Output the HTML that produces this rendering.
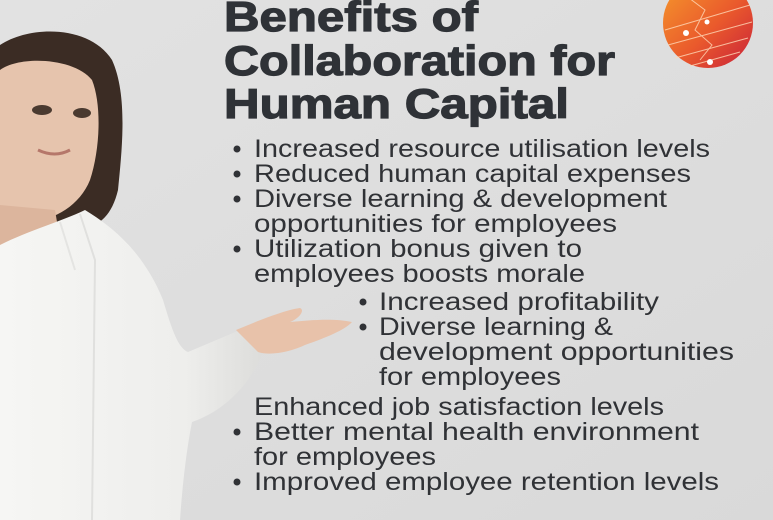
<!DOCTYPE html>
<html><head><meta charset="utf-8"><style>
html,body{margin:0;padding:0;background:#dfdfdf;}
svg{display:block}
</style></head><body>
<svg width="773" height="520" viewBox="0 0 773 520" xmlns="http://www.w3.org/2000/svg">
<defs>
<linearGradient id="bg" x1="0" y1="0" x2="1" y2="1"><stop offset="0" stop-color="#e2e2e2"/><stop offset="1" stop-color="#d9d9d9"/></linearGradient>
<linearGradient id="logo" x1="0" y1="0" x2="1" y2="1"><stop offset="0" stop-color="#f59a2b"/><stop offset="0.55" stop-color="#ea5a2c"/><stop offset="1" stop-color="#c8203a"/></linearGradient>
<linearGradient id="shirt" x1="0" y1="0" x2="1" y2="0"><stop offset="0" stop-color="#f6f6f4"/><stop offset="0.7" stop-color="#eeeeec"/><stop offset="1" stop-color="#dcdcda"/></linearGradient>
</defs>
<rect width="773" height="520" fill="url(#bg)"/>
<g>
<path d="M0,45 C30,25 90,25 112,60 C128,95 122,150 118,190 C112,215 100,225 85,228 L40,230 L0,225 Z" fill="#3b2c24"/>
<path d="M0,70 C20,55 75,58 92,80 C102,105 100,150 90,180 C80,205 55,220 30,222 C15,222 5,215 0,212 Z" fill="#e6c4ad"/>
<path d="M0,205 L55,210 L60,240 L0,250 Z" fill="#dcb59d"/>
<path d="M0,245 C30,230 60,222 85,210 C115,228 145,255 163,300 C172,330 178,348 188,352 L240,330 L264,348 C252,385 222,412 192,422 C186,452 182,490 180,520 L0,520 Z" fill="url(#shirt)"/>
<path d="M236,330 C260,320 285,310 300,308 C305,310 300,318 290,322 C310,320 335,318 352,322 C345,330 325,338 305,345 C290,352 270,356 258,352 Z" fill="#e8c2aa"/>
<path d="M80,214 L95,260 L92,520" stroke="#e0e0de" stroke-width="2" fill="none"/>
<path d="M60,222 L75,270" stroke="#e4e4e2" stroke-width="2" fill="none"/>
<ellipse cx="42" cy="110" rx="10" ry="5" fill="#4a3a30"/>
<ellipse cx="82" cy="113" rx="9" ry="5" fill="#4a3a30"/>
<path d="M38,150 Q55,158 70,150" stroke="#b5776a" stroke-width="3" fill="none"/>
</g>
<g>
<circle cx="708" cy="23" r="45" fill="url(#logo)"/>
<g stroke="#ffd9b8" stroke-width="1" opacity="0.8" fill="none">
<path d="M665,30 L750,5 M668,45 L752,22 M675,58 L748,38 M690,66 L740,52"/>
<path d="M685,-5 L705,10 L695,30 L712,45 L700,60"/>
</g>
<circle cx="686" cy="33" r="3" fill="#fff"/><circle cx="710" cy="62" r="3" fill="#fff"/><circle cx="707" cy="22" r="2.5" fill="#fff"/>
</g>
<g fill="#2f3237" stroke="#2f3237" stroke-width="1.2" font-family="Liberation Sans, sans-serif" font-weight="bold" font-size="42">
<text x="224" y="31" textLength="254" lengthAdjust="spacingAndGlyphs">Benefits of</text>
<text x="224" y="75" textLength="391" lengthAdjust="spacingAndGlyphs">Collaboration for</text>
<text x="224" y="118" textLength="345" lengthAdjust="spacingAndGlyphs">Human Capital</text>
</g>
<g fill="#303236" font-family="Liberation Sans, sans-serif" font-size="25">
<text x="254" y="157" textLength="456" lengthAdjust="spacingAndGlyphs">Increased resource utilisation levels</text>
<text x="254" y="182" textLength="437" lengthAdjust="spacingAndGlyphs">Reduced human capital expenses</text>
<text x="254" y="207" textLength="413" lengthAdjust="spacingAndGlyphs">Diverse learning &amp; development</text>
<text x="254" y="232" textLength="363" lengthAdjust="spacingAndGlyphs">opportunities for employees</text>
<text x="254" y="257" textLength="328" lengthAdjust="spacingAndGlyphs">Utilization bonus given to</text>
<text x="254" y="282" textLength="331" lengthAdjust="spacingAndGlyphs">employees boosts morale</text>
<text x="379" y="310" textLength="280" lengthAdjust="spacingAndGlyphs">Increased profitability</text>
<text x="379" y="335" textLength="234" lengthAdjust="spacingAndGlyphs">Diverse learning &amp;</text>
<text x="379" y="360" textLength="355" lengthAdjust="spacingAndGlyphs">development opportunities</text>
<text x="379" y="385" textLength="182" lengthAdjust="spacingAndGlyphs">for employees</text>
<text x="254" y="415" textLength="410" lengthAdjust="spacingAndGlyphs">Enhanced job satisfaction levels</text>
<text x="254" y="440" textLength="445" lengthAdjust="spacingAndGlyphs">Better mental health environment</text>
<text x="254" y="465" textLength="182" lengthAdjust="spacingAndGlyphs">for employees</text>
<text x="254" y="490" textLength="465" lengthAdjust="spacingAndGlyphs">Improved employee retention levels</text>
<g>
<circle cx="237" cy="149" r="3.5"/><circle cx="237" cy="174" r="3.5"/><circle cx="237" cy="199" r="3.5"/>
<circle cx="237" cy="249" r="3.5"/><circle cx="363" cy="302" r="3.5"/><circle cx="363" cy="327" r="3.5"/>
<circle cx="237" cy="432" r="3.5"/><circle cx="237" cy="482" r="3.5"/>
</g>
</g>
</svg>
</body></html>
